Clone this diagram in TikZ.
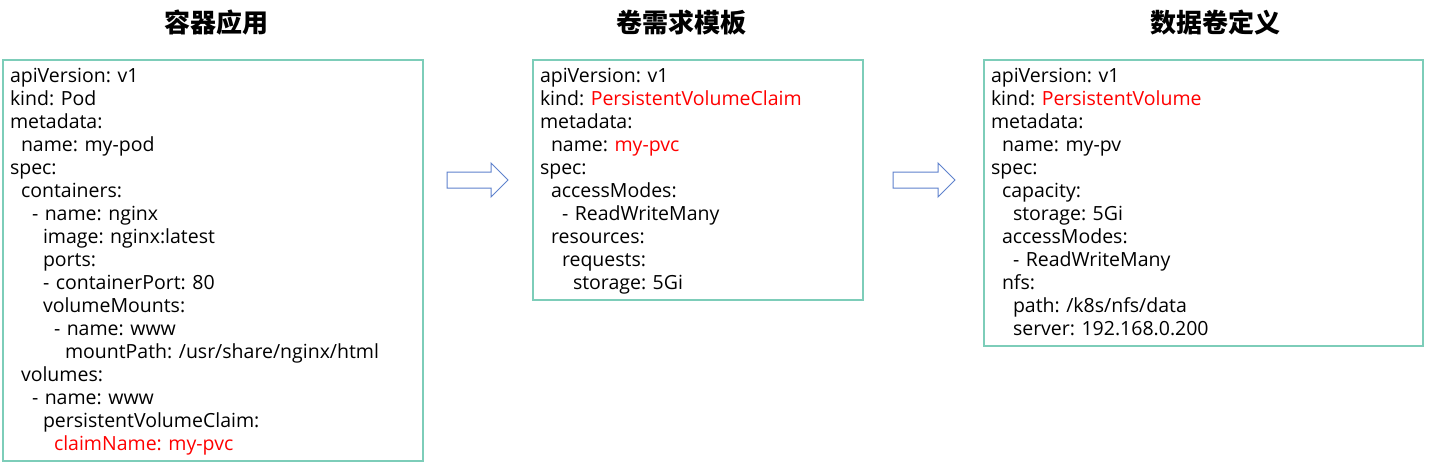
\documentclass[tikz,border=0pt]{standalone}
\usepackage{fontspec}
\setmainfont{Open Sans}
\newfontfamily\cjk{Noto Sans CJK SC}
\usetikzlibrary{positioning,calc}
\frenchspacing

\definecolor{boxline}{RGB}{125,205,185}
\definecolor{arrowline}{RGB}{95,130,205}
\definecolor{keyred}{RGB}{255,0,0}

\newlength{\spw}
\setlength{\spw}{5.5pt}
\newcommand{\ind}[1]{\hspace*{#1\spw}}
\newcommand{\ystrut}{\rule[-6pt]{0pt}{23pt}}
\newcommand{\hl}[1]{\textcolor{keyred}{#1}}

\tikzset{
	codebox/.style={draw=boxline,line width=1.5pt,outer sep=0pt,anchor=north west,align=left,
		inner xsep=7pt,inner ysep=5pt,font=\fontsize{19.5pt}{23pt}\selectfont,
		execute at begin node=\ystrut,execute at end node=\ystrut},
	boxtitle/.style={font=\cjk\bfseries\fontsize{26pt}{30pt}\selectfont},
	blockarrow/.style={draw=arrowline,fill=white,line width=1pt,line join=miter}
}

\begin{document}
\begin{tikzpicture}[x=1pt,y=-1pt]
		\useasboundingbox[fill=white] (0,0) rectangle (1430,464);

		% titles
		\node[boxtitle] (podtitle) at (216,23) {容器应用};
		\node[boxtitle] (pvctitle) at (681,23) {卷需求模板};
		\node[boxtitle] (pvtitle) at (1215,23) {数据卷定义};

		% yaml boxes
		\node[codebox,text width=406pt] (pod) at (3,60) {apiVersion: v1\\kind: Pod\\metadata:\\\ind{2}name: my-pod\\spec:\\\ind{2}containers:\\\ind{4}- name: nginx\\\ind{6}image: nginx:latest\\\ind{6}ports:\\\ind{6}- containerPort: 80\\\ind{6}volumeMounts:\\\ind{8}- name: www\\\ind{10}mountPath: /usr/share/nginx/html\\\ind{2}volumes:\\\ind{4}- name: www\\\ind{6}persistentVolumeClaim:\\\ind{8}\hl{claimName: my-pvc}};
		\node[codebox,text width=316pt] (pvc) at (533,60) {apiVersion: v1\\kind: \hl{PersistentVolumeClaim}\\metadata:\\\ind{2}name: \hl{my-pvc}\\spec:\\\ind{2}accessModes:\\\ind{4}- ReadWriteMany\\\ind{2}resources:\\\ind{4}requests:\\\ind{6}storage: 5Gi};
		\node[codebox,text width=425pt] (pv) at (984,60) {apiVersion: v1\\kind: \hl{PersistentVolume}\\metadata:\\\ind{2}name: my-pv\\spec:\\\ind{2}capacity:\\\ind{4}storage: 5Gi\\\ind{2}accessModes:\\\ind{4}- ReadWriteMany\\\ind{2}nfs:\\\ind{4}path: /k8s/nfs/data\\\ind{4}server: 192.168.0.200};

		% block arrows
		\draw[blockarrow] ($(pod.east |- pvc.center)+(24,-8)$) -- ++(44,0) -- ++(0,-9) -- ++(17,17) -- ++(-17,17) -- ++(0,-9) -- ++(-44,0) -- cycle;
		\draw[blockarrow] ($(pvc.east)+(30,-8)$) -- ++(45,0) -- ++(0,-9) -- ++(17,17) -- ++(-17,17) -- ++(0,-9) -- ++(-45,0) -- cycle;

	\end{tikzpicture}
\end{document}
